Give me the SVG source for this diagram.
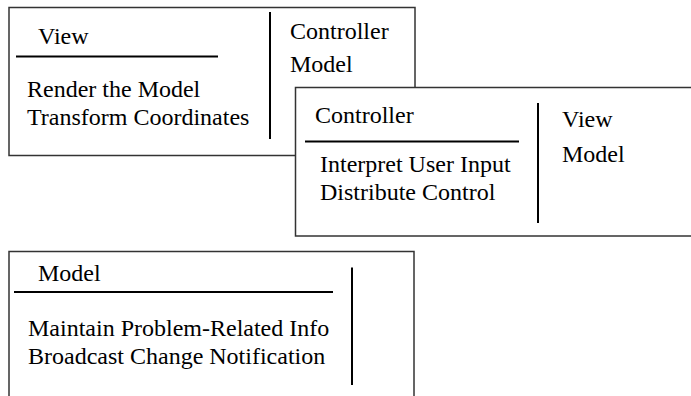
<svg xmlns="http://www.w3.org/2000/svg" width="691" height="396" viewBox="0 0 691 396">
<style>
.box{fill:#fff;stroke:#333;stroke-width:1.5}
.rule{stroke:#000;stroke-width:2}
text{font-family:'Liberation Serif','Times New Roman',serif;font-size:24px;fill:#000}
</style>
<rect width="691" height="396" fill="#fff"/>
<g id="view">
<rect class="box" x="9" y="7.5" width="406" height="148"/>
<text x="38" y="44">View</text>
<line class="rule" x1="16" y1="56.5" x2="218" y2="56.5"/>
<text x="27" y="97">Render the Model</text>
<text x="27" y="125">Transform Coordinates</text>
<line class="rule" x1="270" y1="12" x2="270" y2="139"/>
<text x="290" y="39">Controller</text>
<text x="290" y="72">Model</text>
</g>
<g id="controller">
<rect class="box" x="295.5" y="87.5" width="400" height="148.5"/>
<text x="315" y="123">Controller</text>
<line class="rule" x1="305" y1="141.5" x2="519" y2="141.5"/>
<text x="320" y="172">Interpret User Input</text>
<text x="320" y="200">Distribute Control</text>
<line class="rule" x1="538" y1="103" x2="538" y2="223"/>
<text x="562" y="127">View</text>
<text x="562" y="162">Model</text>
</g>
<g id="model">
<rect class="box" x="9" y="251.5" width="405" height="160"/>
<text x="38" y="281">Model</text>
<line class="rule" x1="14" y1="292" x2="333" y2="292"/>
<text x="28" y="336">Maintain Problem-Related Info</text>
<text x="28" y="364">Broadcast Change Notification</text>
<line class="rule" x1="352" y1="267.5" x2="352" y2="385"/>
</g>
<g id="connectors"/>
</svg>
